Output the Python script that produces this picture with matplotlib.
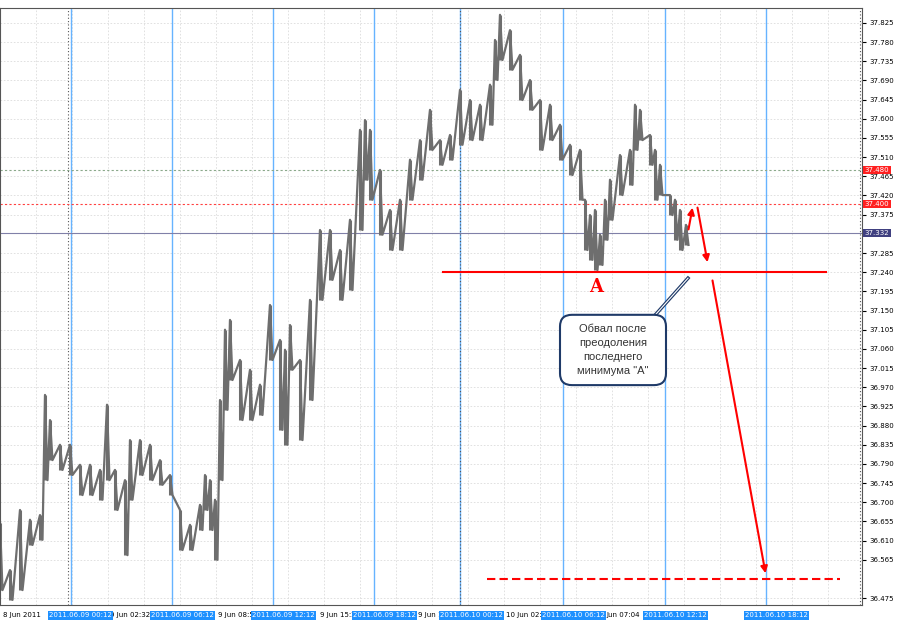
import matplotlib
matplotlib.use("Agg")
import matplotlib.pyplot as plt
from matplotlib.patches import FancyBboxPatch

bar_x = [0,10,20,30,40,45,50,60,70,80,90,100,107,115,125,130,140,150,160,170,180,190,200,205,210,215,220,225,230,240,250,260,270,280,285,290,300,310,320,330,340,350,360,365,370,380,390,400,410,420,430,440,450,460,470,480,490,495,500,510,520,530,540,550,560,570,580,585,590,595,600,605,610,620,630,635,640,650,655,660,670,675,680,686]
highs = [36.652,36.541,36.682,36.659,36.670,36.952,36.893,36.835,36.835,36.788,36.788,36.776,36.929,36.776,36.752,36.846,36.846,36.835,36.799,36.764,36.682,36.647,36.694,36.764,36.752,36.706,36.940,37.105,37.128,37.034,37.011,36.976,37.163,37.081,37.058,37.116,37.034,37.175,37.339,37.339,37.292,37.363,37.574,37.597,37.574,37.480,37.386,37.410,37.504,37.550,37.621,37.550,37.562,37.668,37.644,37.633,37.680,37.785,37.844,37.808,37.750,37.691,37.644,37.633,37.586,37.539,37.527,37.410,37.374,37.386,37.328,37.410,37.457,37.515,37.527,37.633,37.621,37.562,37.527,37.492,37.421,37.410,37.386,37.351]
lows = [36.494,36.471,36.494,36.600,36.612,36.752,36.799,36.776,36.764,36.717,36.717,36.706,36.752,36.682,36.576,36.706,36.764,36.752,36.741,36.717,36.588,36.588,36.635,36.682,36.635,36.565,36.752,36.917,36.987,36.893,36.893,36.905,37.034,36.870,36.835,37.011,36.846,36.940,37.175,37.222,37.175,37.198,37.339,37.457,37.410,37.328,37.292,37.292,37.410,37.457,37.527,37.492,37.504,37.539,37.550,37.550,37.586,37.691,37.738,37.715,37.644,37.621,37.527,37.550,37.504,37.468,37.410,37.292,37.269,37.245,37.257,37.316,37.363,37.421,37.445,37.527,37.550,37.492,37.410,37.421,37.374,37.316,37.292,37.304]

y_ticks = [37.825,37.780,37.735,37.690,37.645,37.600,37.555,37.510,37.465,37.420,37.375,37.285,37.240,37.195,37.150,37.105,37.060,37.015,36.970,36.925,36.880,36.835,36.790,36.745,36.700,36.655,36.610,36.565,36.475]
black_labels = [(3,"8 Jun 2011"),(110,"9 Jun 02:32"),(218,"9 Jun 08:56"),(320,"9 Jun 15:20"),(418,"9 Jun 19:36"),(506,"10 Jun 02:48"),(606,"Jun 07:04")]
blue_labels = [(49,"2011.06.09 00:12"),(151,"2011.06.09 06:12"),(252,"2011.06.09 12:12"),(353,"2011.06.09 18:12"),(440,"2011.06.10 00:12"),(542,"2011.06.10 06:12"),(644,"2011.06.10 12:12"),(745,"2011.06.10 18:12")]
vlines_blue = [71,172,273,374,460,563,665,766]
level_A = 37.240
target = 36.520

fig = plt.figure(figsize=(9,6.3), dpi=100)
fig.patch.set_facecolor("white")
ax = fig.add_axes([0, 25/630, 862/900, 597/630])
ax.set_xlim(0, 862)
ax.set_ylim(36.459, 37.860)
for x in range(0, 862, 36):
    ax.axvline(x, color="#dcdcdc", lw=0.6, ls=(0,(2,2)), zorder=0)
for y in y_ticks:
    ax.axhline(y, color="#dcdcdc", lw=0.6, ls=(0,(2,2)), zorder=0)
for x in vlines_blue:
    ax.axvline(x, color="#66b3ff", lw=1, zorder=1)
for x in [68, 460, 860]:
    ax.axvline(x, color="#555555", lw=0.8, ls=(0,(1,2)), zorder=1)

zx, zy = [], []
for x, h, l in zip(bar_x, highs, lows):
    zx += [x, x + 2.5]
    zy += [h, l]
ax.plot(zx, zy, color="#6e6e6e", lw=1.6, zorder=2)
ax.vlines(bar_x, lows, highs, color="#6e6e6e", lw=2.2, zorder=2)

ax.axhline(37.480, color="#8aa88a", lw=0.8, ls=(0,(2,2)), zorder=1)
ax.axhline(37.400, color="#ff4040", lw=0.8, ls=(0,(2,2)), zorder=1)
ax.axhline(37.332, color="#8080a8", lw=0.8, zorder=1)

ax.plot([443, 826], [level_A, level_A], color="red", lw=1.5, zorder=3)
ax.plot([487, 840], [target, target], color="red", lw=1.5, ls=(0,(4,2)), zorder=3)
kw = dict(arrowstyle="-|>", color="red", lw=1.5, mutation_scale=10)
ax.annotate("", xy=(693, 37.398), xytext=(688, 37.334), arrowprops=kw, zorder=4)
ax.annotate("", xy=(708, 37.257), xytext=(697, 37.398), arrowprops=kw, zorder=4)
ax.annotate("", xy=(766, 36.527), xytext=(712, 37.227), arrowprops=kw, zorder=4)

ax.text(596, 37.205, "A", color="red", fontsize=13, fontweight="bold", family="DejaVu Serif", ha="center", va="center", zorder=5)
ax.plot([625, 688], [37.060, 37.226], color="#1f3a68", lw=2.5, zorder=5)
ax.plot([625, 688], [37.060, 37.226], color="white", lw=0.8, zorder=5)
box = FancyBboxPatch((560, 36.975), 106, 0.165, boxstyle="round,pad=0,rounding_size=12",
                     mutation_aspect=0.0023, fc="white", ec="#1f3a68", lw=1.5, zorder=6)
ax.add_patch(box)
ax.text(613, 37.058, "Обвал после\nпреодоления\nпоследнего\nминимума \"A\"", ha="center", va="center",
        fontsize=8, color="#333333", linespacing=1.5, family="Liberation Sans", zorder=7)

ax.yaxis.tick_right()
ax.set_yticks(y_ticks)
ax.set_yticklabels([f"{v:.3f}" for v in y_ticks], fontsize=5, family="DejaVu Sans")
ax.tick_params(axis="y", length=3, pad=2)
for v, c in [(37.480, "#ff2020"), (37.400, "#ff2020"), (37.332, "#404080")]:
    ax.text(1.003, v, f"{v:.3f}", transform=ax.get_yaxis_transform(), fontsize=5, color="white",
            va="center", ha="left", bbox=dict(fc=c, ec="none", pad=1), zorder=8)
ax.set_xticks([])
for x, s in black_labels:
    ax.text(x, -0.012, s, transform=ax.get_xaxis_transform(), fontsize=5, va="top", ha="left")
for x, s in blue_labels:
    ax.text(x, -0.012, s, transform=ax.get_xaxis_transform(), fontsize=5, va="top", ha="left",
            color="white", bbox=dict(fc="#1e90ff", ec="none", pad=1))
ax.text(3, 0.997, "XAG,M4 37.330 37.357 37.309 37.332", transform=ax.transAxes, fontsize=5, va="top")
for s in ax.spines.values():
    s.set_color("#555555")
fig.savefig("out.png", dpi=100)
